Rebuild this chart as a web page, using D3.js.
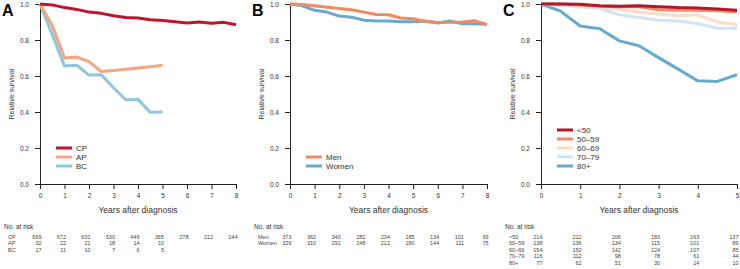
<!DOCTYPE html>
<html>
<head>
<meta charset="utf-8">
<script src="https://cdn.jsdelivr.net/npm/d3@7"></script>
<style>
    body { margin: 0; background: #fff; }
    svg { font-family: "Liberation Sans", Arial, Helvetica, sans-serif; }
    .tick text { fill: #333; }
</style>
</head>
<body>
<svg id="chart" width="740" height="269"></svg>
<script>
// --- data ---
const yearsA = [0, 0.5, 1, 1.5, 2, 2.5, 3, 3.5, 4, 4.5, 5, 5.5, 6, 6.5, 7, 7.5, 8];
const survCP = [1.0, 0.995, 0.98, 0.97, 0.955, 0.948, 0.935, 0.925, 0.922, 0.912, 0.908, 0.902, 0.895, 0.9, 0.893, 0.898, 0.885];
const survAP = [1.0, 0.88, 0.70, 0.705, 0.68, 0.625, 0.63, 0.637, 0.645, 0.652, 0.66];
const survBC = [1.0, 0.83, 0.655, 0.66, 0.605, 0.607, 0.535, 0.468, 0.47, 0.398, 0.40];

const survMen = [1.0, 0.997, 0.99, 0.982, 0.975, 0.968, 0.955, 0.942, 0.94, 0.922, 0.918, 0.903, 0.897, 0.898, 0.9, 0.907, 0.885];
const survWomen = [1.0, 0.99, 0.965, 0.955, 0.933, 0.927, 0.91, 0.906, 0.905, 0.902, 0.902, 0.905, 0.895, 0.905, 0.89, 0.89, 0.888];

const yearsC = [0, 0.5, 1, 1.5, 2, 2.5, 3, 3.5, 4, 4.5, 5];
const survLt50 = [1.0, 1.0, 0.998, 0.99, 0.988, 0.99, 0.985, 0.98, 0.978, 0.972, 0.965];
const surv5059 = [1.0, 1.0, 0.995, 0.988, 0.985, 0.985, 0.968, 0.965, 0.965, 0.962, 0.955];
const surv6069 = [1.0, 0.998, 0.99, 0.985, 0.97, 0.955, 0.945, 0.935, 0.94, 0.9, 0.885];
const surv7079 = [1.0, 0.99, 0.985, 0.975, 0.94, 0.925, 0.91, 0.905, 0.89, 0.865, 0.865];
const surv80p = [1.0, 0.96, 0.878, 0.862, 0.795, 0.768, 0.702, 0.638, 0.573, 0.57, 0.607];

const riskCP = [699, 672, 631, 530, 446, 365, 278, 212, 144];
const riskAP = [32, 22, 21, 18, 14, 10];
const riskBC = [17, 11, 10, 7, 6, 5];
const riskMen = [373, 362, 340, 282, 234, 185, 134, 101, 69];
const riskWomen = [326, 310, 291, 248, 212, 180, 144, 111, 75];
const riskLt50 = [214, 212, 206, 183, 163, 137];
const risk5059 = [138, 136, 134, 115, 101, 89];
const risk6069 = [154, 150, 142, 124, 107, 85];
const risk7079 = [116, 112, 98, 78, 61, 44];
const risk80p = [77, 62, 51, 30, 14, 10];

const yTicks = [0, 0.2, 0.4, 0.6, 0.8, 1.0];

const panels = [
    {
        letter: "A", left: 40, right: 236, maxYear: 8, legendTop: 148,
        series: [
            {name: "CP", color: "#c0142d", years: yearsA, surv: survCP, risk: riskCP},
            {name: "AP", color: "#f4a582", years: yearsA, surv: survAP, risk: riskAP},
            {name: "BC", color: "#92c5de", years: yearsA, surv: survBC, risk: riskBC}
        ]
    },
    {
        letter: "B", left: 290, right: 487, maxYear: 8, legendTop: 157,
        series: [
            {name: "Men", color: "#ef8a62", years: yearsA, surv: survMen, risk: riskMen},
            {name: "Women", color: "#67a9cf", years: yearsA, surv: survWomen, risk: riskWomen}
        ]
    },
    {
        letter: "C", left: 541, right: 737, maxYear: 5, legendTop: 130,
        series: [
            {name: "<50", color: "#b2182b", years: yearsC, surv: survLt50, risk: riskLt50},
            {name: "50\u201359", color: "#ef8a62", years: yearsC, surv: surv5059, risk: risk5059},
            {name: "60\u201369", color: "#fddbc7", years: yearsC, surv: surv6069, risk: risk6069},
            {name: "70\u201379", color: "#d1e5f0", years: yearsC, surv: surv7079, risk: risk7079},
            {name: "80+", color: "#67a9cf", years: yearsC, surv: surv80p, risk: risk80p}
        ]
    }
];

const plotTop = 4, plotBottom = 184;
const svg = d3.select("#chart");

panels.forEach(p => {
    const x = d3.scaleLinear().domain([0, p.maxYear]).range([p.left, p.right]);
    const y = d3.scaleLinear().domain([0, 1]).range([plotBottom, plotTop]);
    const g = svg.append("g");

    // axes
    const yAxis = g.append("g")
        .attr("transform", `translate(${p.left},0)`)
        .call(d3.axisLeft(y).tickValues(yTicks).tickFormat(d3.format(".1f")).tickSizeOuter(0).tickSize(5).tickPadding(6));
    yAxis.selectAll("text").style("font-size", "6.5px");

    const xAxis = g.append("g")
        .attr("transform", `translate(0,${plotBottom})`)
        .call(d3.axisBottom(x).ticks(p.maxYear).tickFormat(d3.format("d")).tickSizeOuter(0).tickSize(5).tickPadding(4));
    xAxis.selectAll("text").style("font-size", "6.5px");
    g.selectAll(".domain").attr("stroke", "#222");
    g.selectAll(".tick line").attr("stroke", "#222");

    // lines, first series drawn last so it sits on top
    const line = d3.line().x(d => x(d[0])).y(d => y(d[1]));
    p.series.slice().reverse().forEach(s => {
        g.append("path")
            .datum(s.surv.map((v, i) => [s.years[i], v]))
            .attr("d", line)
            .attr("fill", "none")
            .attr("stroke", s.color)
            .attr("stroke-width", 3)
            .attr("stroke-linejoin", "round");
    });

    // legend
    p.series.forEach((s, i) => {
        const ly = p.legendTop + i * 9;
        g.append("line")
            .attr("x1", p.left + 16).attr("x2", p.left + 32)
            .attr("y1", ly).attr("y2", ly)
            .attr("stroke", s.color).attr("stroke-width", 3);
        g.append("text")
            .attr("x", p.left + 36).attr("y", ly)
            .attr("dy", "0.35em")
            .style("font-size", "8px").attr("fill", "#333")
            .text(s.name);
    });

    // labels
    svg.append("text")
        .attr("x", p.left - 38).attr("y", 16)
        .style("font-size", "16px").style("font-weight", "bold")
        .text(p.letter);
    svg.append("text")
        .attr("transform", `translate(${p.left - 28},${(plotTop + plotBottom) / 2}) rotate(-90)`)
        .attr("text-anchor", "middle")
        .attr("dy", "0.35em")
        .style("font-size", "7px").attr("fill", "#333")
        .text("Relative survival");
    svg.append("text")
        .attr("x", (p.left + p.right) / 2).attr("y", 210)
        .attr("text-anchor", "middle").attr("dy", "0.35em")
        .style("font-size", "8.5px").attr("fill", "#333")
        .text("Years after diagnosis");

    // number at risk table
    svg.append("text")
        .attr("x", p.left - 36).attr("y", 227)
        .attr("dy", "0.35em")
        .style("font-size", "6.5px").attr("fill", "#333")
        .text("No. at risk");
    p.series.forEach((s, i) => {
        const ry = 237 + i * 6.5;
        svg.append("text")
            .attr("x", p.left - 32).attr("y", ry)
            .attr("dy", "0.35em")
            .style("font-size", "5.5px").attr("fill", "#444")
            .text(s.name);
        svg.selectAll(null)
            .data(s.risk)
            .enter()
            .append("text")
            .attr("x", (d, j) => x(j) + 1.5)
            .attr("y", ry)
            .attr("dy", "0.35em")
            .attr("text-anchor", "end")
            .style("font-size", "5.5px").attr("fill", "#444")
            .text(d => d);
    });
});
</script>
</body>
</html>
